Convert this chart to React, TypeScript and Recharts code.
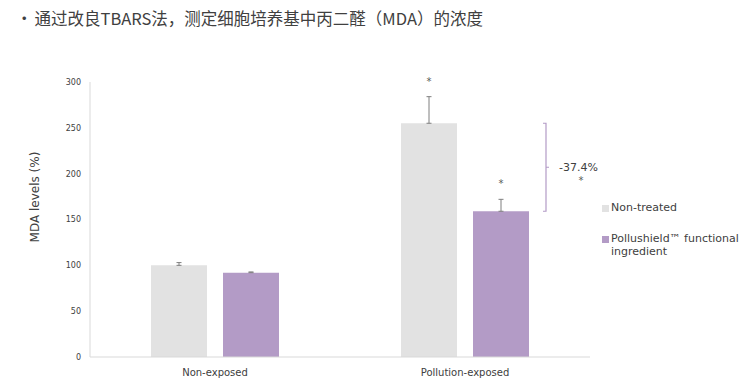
import React from 'react';
import { BarChart, Bar, XAxis, YAxis, ErrorBar, LabelList } from 'recharts';

const categories = ['Non-exposed', 'Pollution-exposed'];
const nonTreated = [100, 255];
const nonTreatedErr = [3, 29];
const pollushield = [92, 159];
const pollushieldErr = [0.8, 13];
const nonTreatedSig = ['', '*'];
const pollushieldSig = ['', '*'];
const reductionLabel = ['', '-37.4%'];
const yTicks = [0, 50, 100, 150, 200, 250, 300];

const seriesNames = ['Non-treated', 'Pollushield\u2122 functional ingredient'];
const GRAY = '#e2e2e2';
const PURPLE = '#b39bc6';
const TEXT = '#404040';
const FONT = '"DejaVu Sans", Verdana, sans-serif';

const data = categories.map((name, i) => ({
  name,
  nt: nonTreated[i],
  ntErr: [0, nonTreatedErr[i]],
  ps: pollushield[i],
  psErr: [0, pollushieldErr[i]],
}));

const makeStar = (sig: string[], errs: number[], vals: number[]) => (props: any) => {
  const { x, y, width, height, index } = props;
  if (!sig[index]) return null;
  const pxPerUnit = height / vals[index];
  const topY = y - errs[index] * pxPerUnit;
  return (
    <text x={x + width / 2} y={topY - 12} textAnchor="middle" fontSize={10} fill="#595959" fontFamily={FONT}>
      {sig[index]}
    </text>
  );
};

const Bracket = (props: any) => {
  const { x, y, width, height, index } = props;
  if (!reductionLabel[index]) return null;
  const pxPerUnit = height / pollushield[index];
  const topY = y - (nonTreated[index] - pollushield[index]) * pxPerUnit;
  const bx = x + width + 17;
  const midY = (topY + y) / 2;
  return (
    <g>
      <path d={`M${bx - 3},${topY} H${bx} V${y} H${bx - 3} M${bx},${midY} H${bx + 3}`} stroke={PURPLE} strokeWidth={1.2} fill="none" />
      <text x={bx + 13} y={midY + 4} fontSize={11} fill={TEXT} fontFamily={FONT}>
        {reductionLabel[index]}
      </text>
      <text x={bx + 35} y={midY + 17} textAnchor="middle" fontSize={10} fill="#595959" fontFamily={FONT}>
        *
      </text>
    </g>
  );
};

const LegendBox = () => (
  <div style={{ position: 'absolute', left: 602, top: 201, width: 140, fontFamily: FONT, fontSize: 11, color: TEXT }}>
    {seriesNames.map((n, i) => (
      <div key={n} style={{ display: 'flex', alignItems: 'flex-start', marginBottom: 18 }}>
        <span style={{ width: 7, height: 7, background: i === 0 ? GRAY : PURPLE, marginTop: 4, marginRight: 2, flex: 'none' }} />
        <span style={{ lineHeight: '13px' }}>{n}</span>
      </div>
    ))}
  </div>
);

export default function App() {
  return (
    <div style={{ position: 'absolute', left: 0, top: 0, width: 746, height: 386, background: '#fff' }}>
      <div
        style={{
          position: 'absolute',
          left: 16,
          top: 6,
          fontFamily: '"Noto Sans CJK SC", "Noto Sans", sans-serif',
          fontSize: 16.5,
          lineHeight: '24px',
          color: '#404040',
          whiteSpace: 'nowrap',
        }}
      >
        <span style={{ marginRight: 2 }}>•</span>通过改良TBARS法，测定细胞培养基中丙二醛（MDA）的浓度
      </div>
      <BarChart
        width={746}
        height={386}
        data={data}
        margin={{ top: 82, right: 156, bottom: 0, left: 0 }}
        barSize={56}
        barGap={16}
      >
        <XAxis
          dataKey="name"
          height={29}
          axisLine={{ stroke: '#d9d9d9' }}
          tickLine={false}
          tickMargin={6}
          tick={{ fontSize: 10, fill: TEXT, fontFamily: FONT }}
        />
        <YAxis
          width={90}
          domain={[0, 300]}
          ticks={yTicks}
          allowDataOverflow
          axisLine={{ stroke: '#d9d9d9' }}
          tickLine={false}
          tickSize={6}
          tickMargin={3}
          tick={{ fontSize: 8, fill: TEXT, fontFamily: FONT }}
          label={{
            content: () => (
              <text
                transform="translate(39,197) rotate(-90)"
                textAnchor="middle"
                fontSize={12}
                fill={TEXT}
                fontFamily={FONT}
              >
                MDA levels (%)
              </text>
            ),
          }}
        />
        <Bar dataKey="nt" name={seriesNames[0]} fill={GRAY} isAnimationActive={false}>
          <ErrorBar dataKey="ntErr" width={2.5} stroke="#7f7f7f" strokeWidth={1} direction="y" />
          <LabelList dataKey="nt" content={makeStar(nonTreatedSig, nonTreatedErr, nonTreated)} />
        </Bar>
        <Bar dataKey="ps" name={seriesNames[1]} fill={PURPLE} isAnimationActive={false}>
          <ErrorBar dataKey="psErr" width={2.5} stroke="#7f7f7f" strokeWidth={1} direction="y" />
          <LabelList dataKey="ps" content={makeStar(pollushieldSig, pollushieldErr, pollushield)} />
          <LabelList dataKey="ps" content={Bracket} />
        </Bar>
      </BarChart>
      <LegendBox />
    </div>
  );
}
